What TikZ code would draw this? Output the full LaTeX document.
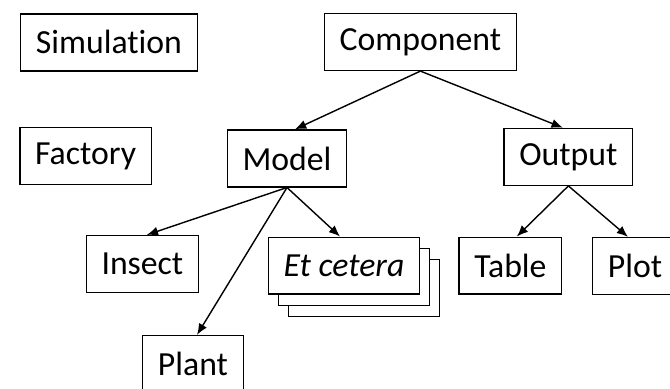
\documentclass[tikz,border=0pt]{standalone}
\usepackage{fontspec}
\setmainfont[Ligatures={NoCommon}]{Carlito}
\usetikzlibrary{arrows.meta,shadows}

\begin{document}
\begin{tikzpicture}[
    box/.style = {rectangle, draw, fill=white, line width=1pt, minimum height=1.42cm, inner xsep=0.38cm, font=\fontsize{24}{28}\selectfont},
    stack/.style = {box, double copy shadow={shadow xshift=0.25cm, shadow yshift=-0.28cm}},
    arrow/.style = {draw, line width=1pt, -{Latex[length=8pt,width=6.5pt]}}
]
    \useasboundingbox (0,0) rectangle (16.75,-9.7);

    \node[box] (sim) at (2.725, -1.06) {Simulation};
    \node[box] (comp) at (10.51, -1.05) {Component};

    \node[box] (fact) at (2.14, -3.9) {Factory};
    \node[box] (model) at (7.175, -3.96) {Model};
    \node[box] (out) at (14.21, -3.92) {Output};

    \node[box] (insect) at (3.56, -6.6) {Insect};
    \node[stack] (etc) at (8.6, -6.64) {\itshape Et cetera};
    \node[box] (table) at (12.76, -6.64) {Table};
    \node[box, anchor=west] (plot) at (14.8, -6.65) {Plot};
    \node[box] (plant) at (4.825, -9.1) {Plant};

    \path[arrow] (comp.south) -- ([xshift=0.2cm]model.north);
    \path[arrow] (comp.south) -- ([xshift=-0.14cm]out.north);
    \path[arrow] (model.south) -- ([xshift=0.11cm]insect.north);
    \path[arrow] (model.south) -- ([xshift=0.1cm]plant.north);
    \path[arrow] (model.south) -- ([xshift=-0.1cm]etc.north);
    \path[arrow] (out.south) -- ([xshift=0.16cm]table.north);
    \path[arrow] (out.south) -- ([xshift=0.9cm]plot.north west);
\end{tikzpicture}
\end{document}
